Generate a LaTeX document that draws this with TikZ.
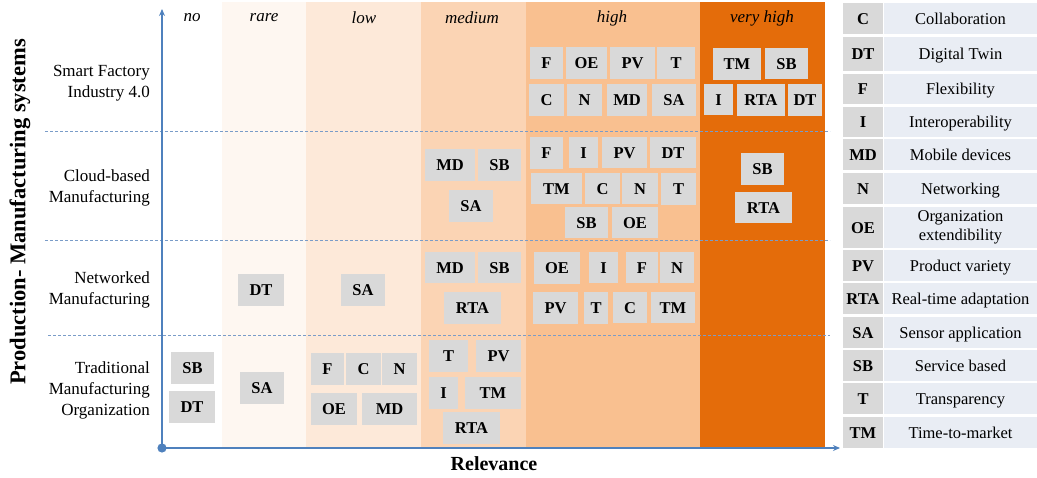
\documentclass[tikz,border=0pt]{standalone}
\usepackage{fontspec}
\setmainfont{Liberation Serif}
\usetikzlibrary{arrows.meta}
\definecolor{bandrare}{HTML}{FEF7F1}
\definecolor{bandlow}{HTML}{FDE9D9}
\definecolor{bandmed}{HTML}{FBD4B4}
\definecolor{bandhigh}{HTML}{F9C090}
\definecolor{bandvhigh}{HTML}{E46C0A}
\definecolor{tagfill}{HTML}{D9D9D9}
\definecolor{legfill}{HTML}{E9EDF4}
\definecolor{axisblue}{HTML}{4F81BD}
\definecolor{gridblue}{HTML}{7A9CC8}
\tikzset{
  tag/.style={fill=tagfill, inner sep=0pt, text height=11.5pt, text depth=0pt,
    font=\fontsize{16.5}{18}\selectfont\bfseries},
  legkey/.style={fill=tagfill, inner sep=0pt, text height=11.5pt, text depth=0pt,
    font=\fontsize{16.5}{18}\selectfont\bfseries},
  legtext/.style={fill=legfill, inner sep=0pt, align=center, text height=11.5pt, text depth=0pt,
    font=\fontsize{16.5}{19}\selectfont},
  legtexttwo/.style={fill=legfill, inner sep=0pt, align=center,
    font=\fontsize{16.5}{19}\selectfont},
  colhead/.style={font=\fontsize{17}{20}\selectfont\itshape},
  rowlabel/.style={anchor=east, align=right, inner sep=0pt, font=\fontsize{17}{21}\selectfont},
  axislabel/.style={font=\fontsize{20}{24}\selectfont\bfseries},
  rowsep/.style={gridblue, line width=0.8pt, dash pattern=on 3pt off 2pt},
  axisline/.style={axisblue, line width=1.3pt, -{Stealth[length=7pt,width=6pt]}}
}
% a filled tag box given by its corners: name, x1, y1, x2, y2, text
\newcommand{\tagbox}[6]{%
  \node[tag, minimum width={(#4-#2)*1pt}, minimum height={(#5-#3)*1pt}]
    (#1) at ({(#2+#4)/2},{(#3+#5)/2}) {#6};}
% one legend row: name, y1, y2, key, meaning
\newcommand{\legrow}[5]{%
  \node[legkey, minimum width=40pt, minimum height={(#3-#2)*1pt}]
    (#1k) at (863,{(#2+#3)/2}) {#4};
  \node[legtext, minimum width=153pt, minimum height={(#3-#2)*1pt}]
    (#1t) at (960.5,{(#2+#3)/2}) {#5};}
\begin{document}
\begin{tikzpicture}[x=1pt,y=-1pt]
\useasboundingbox (0,0) rectangle (1037,478);
% relevance bands
\fill[bandrare]  (222,2) rectangle (306,448);
\fill[bandlow]   (306,2) rectangle (421,448);
\fill[bandmed]   (421,2) rectangle (526,448);
\fill[bandhigh]  (526,2) rectangle (700,448);
\fill[bandvhigh] (700,2) rectangle (825,448);
% column headings
\node[colhead] (hno)    at (192,18) {no};
\node[colhead] (hrare)  at (264,18) {rare};
\node[colhead] (hlow)   at (364,18) {low};
\node[colhead] (hmed)   at (472,18) {medium};
\node[colhead] (hhigh)  at (612,18) {high};
\node[colhead] (hvhigh) at (762,18) {very high};
% row separators
\coordinate (s1a) at (45,131);  \coordinate (s1b) at (830,131);
\coordinate (s2a) at (45,240);  \coordinate (s2b) at (830,240);
\coordinate (s3a) at (48,335);  \coordinate (s3b) at (830,335);
\draw[rowsep] (s1a) -- (s1b);
\draw[rowsep] (s2a) -- (s2b);
\draw[rowsep] (s3a) -- (s3b);
% row labels
\node[rowlabel] (rsmart) at (150,83)  {Smart Factory\\Industry 4.0};
\node[rowlabel] (rcloud) at (150,188) {Cloud-based\\Manufacturing};
\node[rowlabel] (rnet)   at (150,290) {Networked\\Manufacturing};
\node[rowlabel] (rtrad)  at (150,390) {Traditional\\Manufacturing\\Organization};
% axes
\coordinate (origin) at (162,448);
\coordinate (ytip) at (162,9);
\coordinate (xtip) at (840,448);
\draw[axisline] (origin) -- (ytip);
\draw[axisline] (origin) -- (xtip);
\fill[axisblue] (origin) circle (4.6pt);
\node[axislabel] (xlab) at (494,464) {Relevance};
\node[axislabel, font=\fontsize{22.5}{26}\selectfont\bfseries, rotate=90] (ylab) at (20,212)
  {Production- Manufacturing systems};
% Smart Factory, high
\tagbox{sfF}{530}{47}{563}{79}{F}
\tagbox{sfOE}{566}{47}{607}{79}{OE}
\tagbox{sfPV}{610}{47}{655}{79}{PV}
\tagbox{sfT}{657}{47}{695}{79}{T}
\tagbox{sfC}{529}{84}{564}{116}{C}
\tagbox{sfN}{567}{84}{602}{116}{N}
\tagbox{sfMD}{607}{84}{647}{116}{MD}
\tagbox{sfSA}{652}{84}{696}{116}{SA}
% Smart Factory, very high
\tagbox{sfTM}{713}{48}{761}{80}{TM}
\tagbox{sfSB}{765}{48}{808}{79}{SB}
\tagbox{sfI}{704}{84}{733}{115}{I}
\tagbox{sfRTA}{737}{84}{785}{116}{RTA}
\tagbox{sfDT}{788}{84}{822}{116}{DT}
% Cloud-based, medium
\tagbox{cbMD}{425}{149}{475}{181}{MD}
\tagbox{cbSB}{478}{149}{521}{181}{SB}
\tagbox{cbSA}{449}{190}{493}{222}{SA}
% Cloud-based, high
\tagbox{cbF}{530}{137}{563}{169}{F}
\tagbox{cbI}{569}{137}{598}{168}{I}
\tagbox{cbPV}{602}{137}{647}{168}{PV}
\tagbox{cbDT}{650}{137}{696}{168}{DT}
\tagbox{cbTM}{531}{173}{582}{204}{TM}
\tagbox{cbC}{585}{173}{620}{204}{C}
\tagbox{cbN}{622}{173}{658}{204}{N}
\tagbox{cbT}{661}{173}{696}{205}{T}
\tagbox{cbSBb}{565}{207}{608}{238}{SB}
\tagbox{cbOE}{612}{207}{658}{238}{OE}
% Cloud-based, very high
\tagbox{cbSBc}{741}{153}{784}{185}{SB}
\tagbox{cbRTA}{735}{192}{792}{223}{RTA}
% Networked
\tagbox{nwDT}{238}{274}{284}{306}{DT}
\tagbox{nwSA}{341}{274}{385}{306}{SA}
\tagbox{nwMD}{425}{252}{475}{283}{MD}
\tagbox{nwSB}{478}{252}{521}{283}{SB}
\tagbox{nwRTA}{444}{292}{501}{324}{RTA}
\tagbox{nwOE}{534}{252}{580}{284}{OE}
\tagbox{nwI}{589}{252}{618}{283}{I}
\tagbox{nwF}{626}{252}{658}{283}{F}
\tagbox{nwN}{660}{252}{694}{283}{N}
\tagbox{nwPV}{533}{292}{578}{324}{PV}
\tagbox{nwT}{584}{292}{608}{324}{T}
\tagbox{nwC}{613}{292}{647}{323}{C}
\tagbox{nwTM}{651}{292}{695}{323}{TM}
% Traditional
\tagbox{trSB}{171}{352}{214}{384}{SB}
\tagbox{trDT}{169}{391}{215}{423}{DT}
\tagbox{trSA}{240}{372}{284}{404}{SA}
\tagbox{trF}{311}{353}{344}{385}{F}
\tagbox{trC}{346}{353}{381}{385}{C}
\tagbox{trN}{382}{353}{417}{385}{N}
\tagbox{trOE}{311}{393}{357}{425}{OE}
\tagbox{trMD}{362}{393}{417}{425}{MD}
\tagbox{trT}{429}{340}{468}{372}{T}
\tagbox{trPV}{476}{340}{521}{372}{PV}
\tagbox{trI}{429}{377}{458}{409}{I}
\tagbox{trTM}{465}{377}{521}{409}{TM}
\tagbox{trRTA}{443}{412}{500}{444}{RTA}
% legend
\legrow{lC}{3}{34}{C}{Collaboration}
\legrow{lDT}{37}{71}{DT}{Digital Twin}
\legrow{lF}{74}{104}{F}{Flexibility}
\legrow{lI}{107}{137}{I}{Interoperability}
\legrow{lMD}{139}{170}{MD}{Mobile devices}
\legrow{lN}{173}{204}{N}{Networking}
\node[legkey, minimum width=40pt, minimum height=41pt] (lOEk) at (863,227.5) {OE};
\node[legtexttwo, minimum width=153pt, minimum height=41pt] (lOEt) at (960.5,227.5)
  {Organization\\extendibility};
\legrow{lPV}{250}{281}{PV}{Product variety}
\legrow{lRTA}{283}{314}{RTA}{Real-time adaptation}
\legrow{lSA}{317}{348}{SA}{Sensor application}
\legrow{lSB}{350}{381}{SB}{Service based}
\legrow{lT}{383}{414}{T}{Transparency}
\legrow{lTM}{417}{448}{TM}{Time-to-market}
\end{tikzpicture}
\end{document}
